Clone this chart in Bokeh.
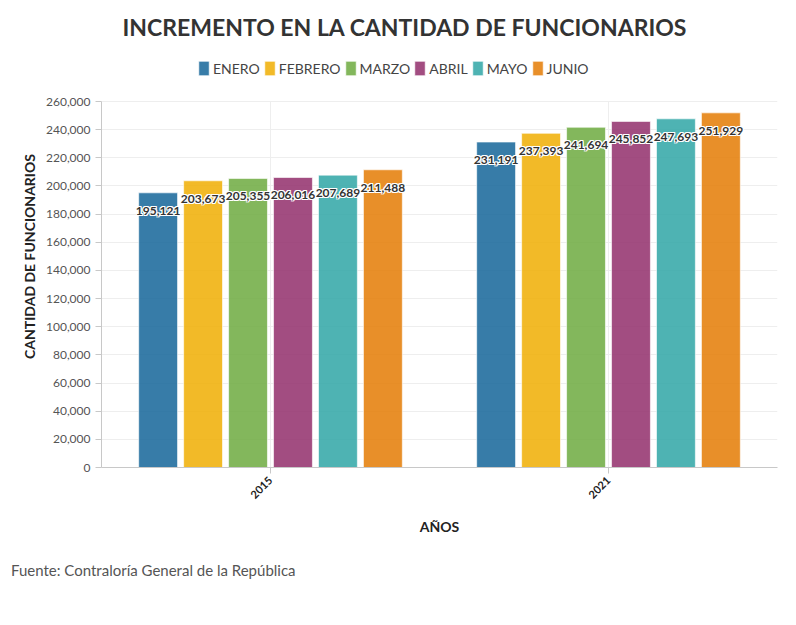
from bokeh.plotting import figure
from bokeh.models import ColumnDataSource, FactorRange, Legend, LegendItem, NumeralTickFormatter, FixedTicker, Range1d, Div, Title
from bokeh.layouts import column
from bokeh.transform import dodge
from bokeh.core.properties import value
from bokeh.embed import file_html
from bokeh.resources import INLINE
import math

years = ["2015", "2021"]
months = ["ENERO", "FEBRERO", "MARZO", "ABRIL", "MAYO", "JUNIO"]
enero = [195121, 231191]
febrero = [203673, 237393]
marzo = [205355, 241694]
abril = [206016, 245852]
mayo = [207689, 247693]
junio = [211488, 251929]
colors = ["#1b6a9c", "#f0b00a", "#72ad46", "#953470", "#36a9a8", "#e57f0b"]
y_ticks = list(range(0, 260001, 20000))

series = [enero, febrero, marzo, abril, mayo, junio]
data = dict(year=years)
for m, s in zip(months, series):
    data[m] = s
    data[m + "_lbl"] = ["{:,}".format(v) for v in s]
source = ColumnDataSource(data)

FONT = "Lato"
Y_MAX = y_ticks[-1]
AXIS_PX = 366     # pixel length of the 0..Y_MAX axis
FRAME_PX = 422    # frame height (extra room on top holds the legend)
Y_END = Y_MAX * FRAME_PX / AXIS_PX

p = figure(x_range=FactorRange(*years), y_range=Range1d(0, Y_END),
           width=788, height=547, output_backend="svg", toolbar_location=None,
           min_border_left=101, min_border_right=11, min_border_top=45, min_border_bottom=80)

main_title = Title(text="INCREMENTO EN LA CANTIDAD DE FUNCIONARIOS", align="left",
                   text_font=FONT, text_font_size="23px", text_font_style="bold",
                   text_color="#333333", offset=21)
p.add_layout(main_title, "above")

# vertical grid lines at the category centres, only over the axis span
p.segment(x0=years, y0=[0, 0], x1=years, y1=[Y_MAX, Y_MAX], line_color="#eeeeee", line_width=1)

step = 0.133
bw = 0.115
items = []
for i, (m, c) in enumerate(zip(months, colors)):
    off = (i - 2.5) * step
    r = p.vbar(x=dodge("year", off, range=p.x_range), top=m, width=bw, source=source,
               fill_color=c, fill_alpha=0.88, line_color="white", line_alpha=0.6, line_width=1)
    items.append(LegendItem(label=m, renderers=[r]))

for i, m in enumerate(months):
    off = (i - 2.5) * step
    for dx, dy in [(-1, 0), (1, 0), (0, -1), (0, 1), (-1, -1), (1, 1), (-1, 1), (1, -1)]:
        p.text(x=dodge("year", off, range=p.x_range), y=m, text=m + "_lbl", source=source,
               x_offset=dx, y_offset=18 + dy, text_align="center", text_baseline="middle",
               text_font=value(FONT), text_font_size="12px", text_font_style="bold",
               text_color="white")
    p.text(x=dodge("year", off, range=p.x_range), y=m, text=m + "_lbl", source=source,
           x_offset=0, y_offset=18, text_align="center", text_baseline="middle",
           text_font=value(FONT), text_font_size="12px", text_font_style="bold",
           text_color="#333333")

legend = Legend(items=items, orientation="horizontal", location=(96, 390),
                label_text_font=FONT, label_text_font_size="14px", label_text_color="#444444",
                glyph_width=13, glyph_height=18, label_standoff=3, spacing=3,
                padding=0, margin=0, label_height=18,
                border_line_color=None, background_fill_alpha=0)
p.add_layout(legend, "center")

p.yaxis.ticker = FixedTicker(ticks=y_ticks)
p.yaxis.formatter = NumeralTickFormatter(format="0,0")
p.yaxis.bounds = (0, Y_MAX)
p.yaxis.axis_label = "CANTIDAD DE FUNCIONARIOS"
p.xaxis.axis_label = "AÑOS"
for ax in [p.xaxis, p.yaxis]:
    ax.axis_label_text_font = FONT
    ax.axis_label_text_font_size = "14px"
    ax.axis_label_text_font_style = "bold"
    ax.axis_label_text_color = "#222222"
    ax.major_label_text_font = FONT
    ax.axis_line_color = "#c8c8c8"
    ax.major_tick_line_color = "#c8c8c8"
    ax.major_tick_out = 6
    ax.major_tick_in = 0
    ax.minor_tick_line_color = None
p.yaxis.major_label_text_font_size = "12px"
p.yaxis.major_label_text_color = "#555555"
p.yaxis.axis_label_standoff = 5
p.xaxis.major_label_text_font_size = "11px"
p.xaxis.major_label_text_font_style = "bold"
p.xaxis.major_label_text_color = "#222222"
p.xaxis.major_label_orientation = math.pi / 4
p.xaxis.axis_label_standoff = 13

p.ygrid.grid_line_color = "#eeeeee"
p.xgrid.grid_line_color = None
p.outline_line_color = None

footer = Div(text="Fuente: Contraloría General de la República", width=788, height=40,
             styles={"font-family": FONT, "font-size": "15px", "color": "#555555",
                     "padding-left": "6px", "padding-top": "8px"})

open("out.html", "w").write(file_html(column(p, footer), INLINE))
